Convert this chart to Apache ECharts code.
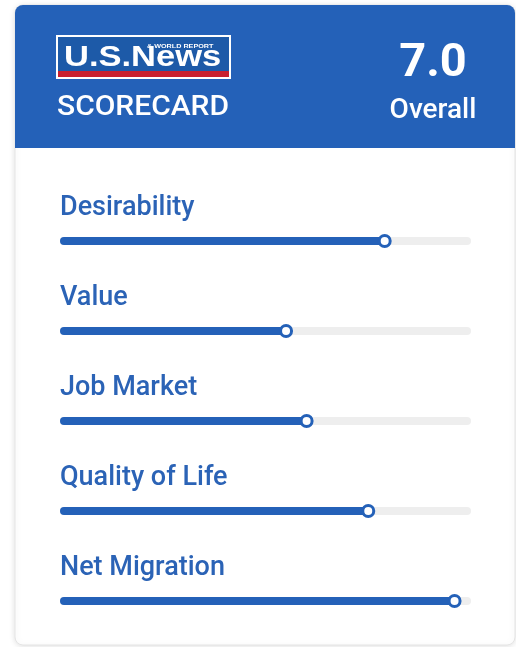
<!DOCTYPE html>
<html>
<head>
<meta charset="utf-8">
<script src="https://cdn.jsdelivr.net/npm/echarts@6/dist/echarts.min.js"></script>
<style>
  html, body { margin: 0; padding: 0; background: #fff; }
  #scorecard { width: 516px; height: 647px; }
</style>
</head>
<body>
<div id="scorecard"></div>
<script>
// 数据
var categories = ['Desirability', 'Value', 'Job Market', 'Quality of Life', 'Net Migration'];
var scores = [7.9, 5.5, 6.0, 7.5, 9.6];
var overallScore = 7.0;
var scoreMax = 10;

var blue = '#2461b8';
var textBlue = '#2b63b6';

var myChart_scorecard = echarts.init(document.getElementById('scorecard'));

// 右侧数值标签用的隐藏点（放在轴最大值处）
var valueLabelData = scores.map(function (v, i) {
    return { value: [scoreMax, i], label: { formatter: v.toFixed(1) } };
});
var dotData = scores.map(function (v, i) { return [v, i]; });

var option = {
    animation: false,
    textStyle: { fontFamily: 'Roboto' },
    graphic: [
        // card
        {
            type: 'rect', z: -10,
            shape: { x: 15, y: 5, width: 500, height: 640, r: 8 },
            style: { fill: '#fff', stroke: '#e4e4e4', lineWidth: 1,
                shadowBlur: 6, shadowColor: 'rgba(0,0,0,0.12)', shadowOffsetY: 1 }
        },
        // header
        {
            type: 'rect', z: -9,
            shape: { x: 15, y: 5, width: 500, height: 143, r: [8, 8, 0, 0] },
            style: { fill: blue }
        },
        // logo
        {
            type: 'rect', z: -8,
            shape: { x: 57, y: 36, width: 173, height: 42 },
            style: { fill: '#1d5aa8', stroke: '#fff', lineWidth: 2 }
        },
        {
            type: 'rect', z: -7,
            shape: { x: 58, y: 71, width: 171, height: 6 },
            style: { fill: '#c9202f' }
        },
        {
            type: 'text', z: -6, x: 64, y: 58, scaleX: 1.19,
            style: { text: 'U.S.News', fill: '#fff', font: 'bold 29px "Liberation Sans"',
                verticalAlign: 'middle' }
        },
        {
            type: 'text', z: -6, x: 147, y: 46, scaleX: 1.2,
            style: { text: '& WORLD REPORT', fill: '#fff', font: 'bold 6px "Liberation Sans"',
                verticalAlign: 'middle' }
        },
        {
            type: 'text', z: -6, x: 57, y: 108, scaleX: 1.11,
            style: { text: 'SCORECARD', fill: '#fff', font: '500 27px Roboto',
                verticalAlign: 'middle' }
        },
        {
            type: 'text', z: -6, x: 433, y: 64,
            style: { text: overallScore.toFixed(1), fill: '#fff', font: 'bold 47px Roboto',
                align: 'center', verticalAlign: 'middle' }
        },
        {
            type: 'text', z: -6, x: 433, y: 111,
            style: { text: 'Overall', fill: '#fff', font: '500 28px Roboto',
                align: 'center', verticalAlign: 'middle' }
        }
    ],
    grid: { left: 60, right: 45, top: 196, bottom: 1 },
    xAxis: {
        type: 'value', min: 0, max: scoreMax,
        show: false
    },
    yAxis: {
        type: 'category', data: categories, inverse: true,
        show: false
    },
    series: [
        {
            type: 'bar',
            data: scores,
            barWidth: 8,
            itemStyle: { color: blue, borderRadius: 4 },
            showBackground: true,
            backgroundStyle: { color: '#eeeeee', borderRadius: 4 },
            label: {
                show: true,
                position: [0, -29],
                verticalAlign: 'middle',
                align: 'left',
                formatter: '{b}',
                color: textBlue,
                fontSize: 27,
                fontWeight: 500,
                fontFamily: 'Roboto'
            },
            z: 2
        },
        {
            type: 'scatter',
            data: dotData,
            symbol: 'circle',
            symbolSize: 11,
            itemStyle: { color: '#fff', borderColor: blue, borderWidth: 3, opacity: 1 },
            z: 3
        },
        {
            type: 'scatter',
            data: valueLabelData,
            symbolSize: 1,
            itemStyle: { opacity: 0 },
            label: {
                show: true,
                position: [0, -33],
                align: 'right',
                verticalAlign: 'middle',
                color: textBlue,
                fontSize: 27,
                fontWeight: 500,
                fontFamily: 'Roboto'
            },
            z: 3
        }
    ]
};

myChart_scorecard.setOption(option);
</script>
</body>
</html>
